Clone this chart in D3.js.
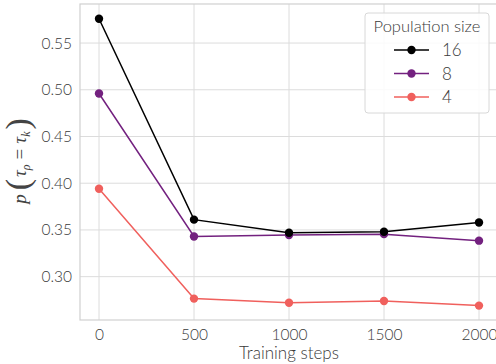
<!DOCTYPE html>
<html>
<head>
<meta charset="utf-8">
<script src="https://cdn.jsdelivr.net/npm/d3@7"></script>
<style>
  body { margin: 0; background: #fff; }
  text { font-family: Lato, "Open Sans", sans-serif; font-weight: 300; }
</style>
</head>
<body>
<div id="chart"></div>
<script>
const steps = [0, 500, 1000, 1500, 2000];
const seriesNames = ["16", "8", "4"];
const seriesColors = ["#000000", "#73217f", "#f0605d"];
const pop16 = [0.576, 0.361, 0.347, 0.348, 0.358];
const pop8 = [0.496, 0.343, 0.3445, 0.3455, 0.3385];
const pop4 = [0.394, 0.2765, 0.272, 0.274, 0.269];
const xTicks = [0, 500, 1000, 1500, 2000];
const yTicks = [0.30, 0.35, 0.40, 0.45, 0.50, 0.55];

const W = 496, H = 364;
const margin = {top: 4, right: -2, bottom: 44, left: 80};

const svg = d3.select("#chart").append("svg")
  .attr("width", W).attr("height", H);

const x = d3.scaleLinear().domain([-100, 2100]).range([margin.left, W - margin.right]);
const y = d3.scaleLinear().domain([0.2536, 0.5918]).range([H - margin.bottom, margin.top]);

const gridColor = "#dcdcdc";
const textColor = "#3a3a3a";

// grid
svg.append("g").selectAll("line").data(yTicks).join("line")
  .attr("x1", margin.left).attr("x2", W)
  .attr("y1", d => y(d)).attr("y2", d => y(d))
  .attr("stroke", gridColor).attr("stroke-width", 1);
svg.append("g").selectAll("line").data(xTicks).join("line")
  .attr("y1", margin.top).attr("y2", H - margin.bottom)
  .attr("x1", d => x(d)).attr("x2", d => x(d))
  .attr("stroke", gridColor).attr("stroke-width", 1);

// frame
svg.append("rect")
  .attr("x", margin.left).attr("y", margin.top)
  .attr("width", W - margin.left + 5).attr("height", H - margin.bottom - margin.top)
  .attr("fill", "none").attr("stroke", "#d0d0d0").attr("stroke-width", 1.2);

// axes
const xAxis = svg.append("g")
  .attr("transform", `translate(0,${H - margin.bottom})`)
  .call(d3.axisBottom(x).tickValues(xTicks).tickSize(0).tickPadding(9).tickFormat(d3.format("d")));
const yAxis = svg.append("g")
  .attr("transform", `translate(${margin.left},0)`)
  .call(d3.axisLeft(y).tickValues(yTicks).tickSize(0).tickPadding(8).tickFormat(d3.format(".2f")));
[xAxis, yAxis].forEach(g => {
  g.select(".domain").remove();
  g.selectAll("text").attr("fill", textColor).style("font-size", "15.5px")
    .style("font-family", "Lato, sans-serif").style("font-weight", 300);
});

// lines
const allSeries = [pop16, pop8, pop4];
const line = d3.line().x((d, i) => x(steps[i])).y(d => y(d));
allSeries.slice().reverse().forEach((vals, ri) => {
  const k = allSeries.length - 1 - ri;
  svg.append("path").datum(vals)
    .attr("d", line).attr("fill", "none")
    .attr("stroke", seriesColors[k]).attr("stroke-width", 1.5);
  svg.append("g").selectAll("circle").data(vals).join("circle")
    .attr("cx", (d, i) => x(steps[i])).attr("cy", d => y(d))
    .attr("r", 4.2).attr("fill", seriesColors[k]);
});

// x label
svg.append("text")
  .attr("x", x(1000)).attr("y", 359)
  .attr("text-anchor", "middle").attr("fill", textColor)
  .style("font-size", "17px").text("Training steps");

// y label (math)
const yl = svg.append("text")
  .attr("transform", "translate(26,161) rotate(-90)")
  .attr("text-anchor", "middle").attr("fill", "#444")
  .style("font-family", "'Liberation Serif', serif").style("font-size", "19px")
  .style("font-weight", 400);
yl.append("tspan").style("font-style", "italic").text("p");
yl.append("tspan").attr("dx", 4).style("font-size", "34px").attr("dy", 3).text("(");
yl.append("tspan").style("font-style", "italic").attr("dy", -3).attr("dx", 2).text("τ");
yl.append("tspan").style("font-style", "italic").style("font-size", "12px").attr("dy", 4).text("ρ");
yl.append("tspan").attr("dy", -4).attr("dx", 5).text("=");
yl.append("tspan").attr("dx", 5).style("font-style", "italic").text("τ");
yl.append("tspan").style("font-style", "italic").style("font-size", "12px").attr("dy", 4).text("k");
yl.append("tspan").attr("dx", 2).style("font-size", "34px").attr("dy", -1).text(")");

// legend
const lg = svg.append("g").attr("transform", "translate(365,13)");
lg.append("rect").attr("width", 124).attr("height", 100).attr("rx", 3)
  .attr("fill", "#fff").attr("fill-opacity", 0.85)
  .attr("stroke", "#d8d8d8").attr("stroke-width", 1);
lg.append("text").attr("x", 62).attr("y", 19).attr("text-anchor", "middle")
  .attr("fill", textColor).style("font-size", "16.5px").text("Population size");
seriesNames.forEach((name, i) => {
  const yy = 37 + i * 23.5;
  lg.append("line").attr("x1", 29).attr("x2", 64).attr("y1", yy).attr("y2", yy)
    .attr("stroke", seriesColors[i]).attr("stroke-width", 1.5);
  lg.append("circle").attr("cx", 46.5).attr("cy", yy).attr("r", 4.2).attr("fill", seriesColors[i]);
  lg.append("text").attr("x", 77).attr("y", yy + 6)
    .attr("fill", textColor).style("font-size", "17px").text(name);
});
</script>
</body>
</html>
